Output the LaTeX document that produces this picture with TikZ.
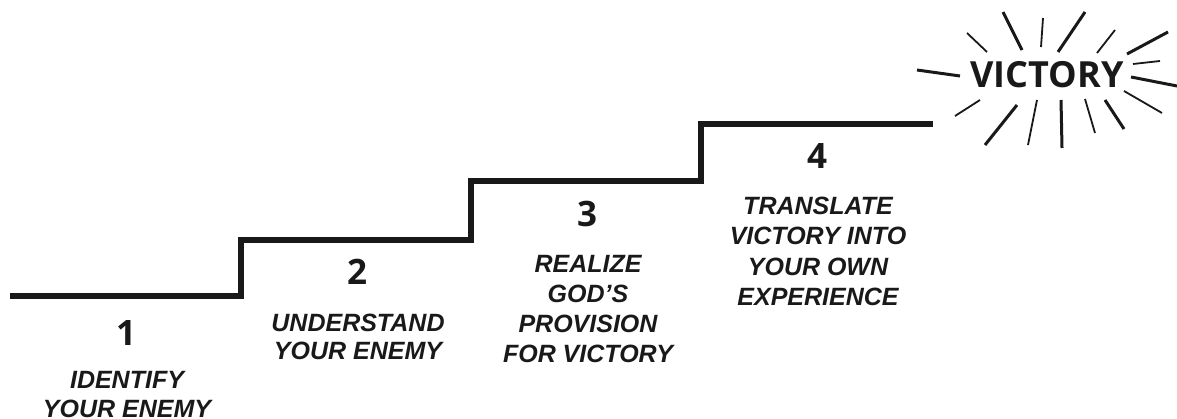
\documentclass[tikz,border=0pt]{standalone}
\usepackage{fontspec}
\setmainfont{Liberation Sans}
\newfontfamily\numfont{Open Sans}
\tikzset{
  stair/.style={line width=6pt, line join=miter, draw=black!90},
  numlbl/.style={inner sep=0pt, font=\numfont\bfseries\fontsize{35}{35}\selectfont, text=black!90},
  steplbl/.style={inner sep=0pt, align=center, font=\bfseries\itshape\fontsize{25}{28}\selectfont, text=black!90},
  vict/.style={inner sep=0pt, font=\numfont\bfseries\fontsize{36}{36}\selectfont, text=black!90},
  thickray/.style={line width=3pt, draw=black!90},
  thinray/.style={line width=1.8pt, draw=black!90}
}
\begin{document}
\begin{tikzpicture}[x=1pt,y=-1pt]
\useasboundingbox (0,0) rectangle (1177,419);
% stair
\coordinate (s0) at (10,296);
\coordinate (s1) at (241,296);
\coordinate (s2) at (241,240);
\coordinate (s3) at (471,240);
\coordinate (s4) at (471,181.5);
\coordinate (s5) at (701,181.5);
\coordinate (s6) at (701,124.5);
\coordinate (s7) at (933,124.5);
\draw[stair] (s0) -- (s1) -- (s2) -- (s3) -- (s4) -- (s5) -- (s6) -- (s7);
% numbers
\node[numlbl] (n1) at (126,333) {1};
\node[numlbl] (n2) at (357,271.5) {2};
\node[numlbl] (n3) at (587,214.5) {3};
\node[numlbl] (n4) at (817,156.5) {4};
% texts
\node[steplbl, font=\bfseries\itshape\fontsize{25}{28.5}\selectfont] (t1) at (127,394.5) {IDENTIFY\\YOUR ENEMY};
\node[steplbl, font=\bfseries\itshape\fontsize{25}{28.5}\selectfont] (t2) at (358,337) {UNDERSTAND\\YOUR ENEMY};
\node[steplbl, font=\bfseries\itshape\fontsize{25}{30}\selectfont] (t3) at (588,309) {REALIZE\\GOD’S\\PROVISION\\FOR VICTORY};
\node[steplbl, font=\bfseries\itshape\fontsize{25}{30.3}\selectfont] (t4) at (818,251.5) {TRANSLATE\\VICTORY INTO\\YOUR OWN\\EXPERIENCE};
% victory
\node[vict] (v) at (1047,75) {VICTORY};
\draw[thickray] (1003,12) -- (1022,50);
\draw[thinray] (1043,18) -- (1041,47);
\draw[thickray] (1085,12) -- (1058,52);
\draw[thinray] (1115,30) -- (1097,53);
\draw[thickray] (1168,32) -- (1127,54);
\draw[thinray] (1160,61) -- (1133,64);
\draw[thickray] (1131,77) -- (1177,86);
\draw[thinray] (1124,91) -- (1162,113);
\draw[thickray] (1105,100) -- (1124,129);
\draw[thinray] (1085,99) -- (1095,133);
\draw[thickray] (1061,100) -- (1062,148);
\draw[thinray] (1037,100) -- (1028,145);
\draw[thickray] (1017,105) -- (985,145);
\draw[thinray] (980,100) -- (955,116);
\draw[thickray] (917,70) -- (960,76);
\draw[thinray] (967,33) -- (987,52);
\end{tikzpicture}
\end{document}
